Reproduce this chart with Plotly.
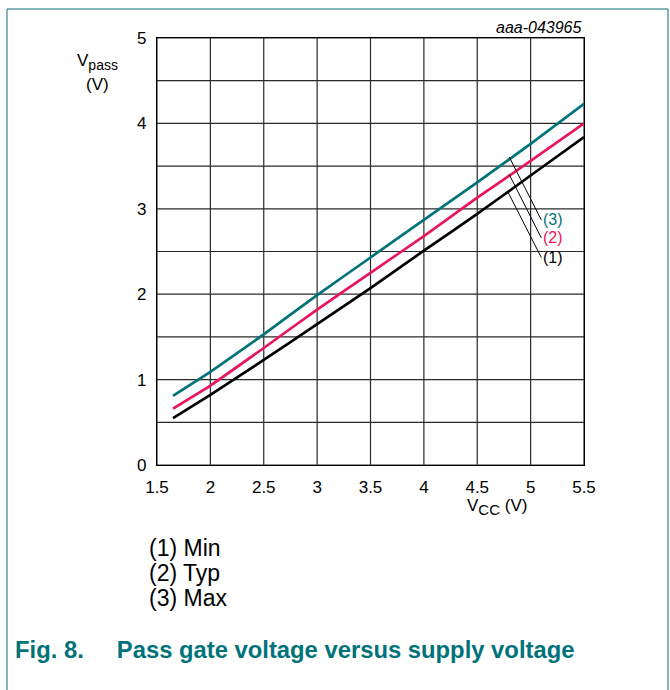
import plotly.graph_objects as go

# ---- data ----
vcc = [1.65, 2.0, 2.5, 3.0, 3.5, 4.0, 4.5, 5.0, 5.5]
v_min = [0.55, 0.82, 1.23, 1.65, 2.07, 2.51, 2.94, 3.39, 3.84]
v_typ = [0.66, 0.93, 1.37, 1.82, 2.25, 2.68, 3.13, 3.56, 4.00]
v_max = [0.81, 1.09, 1.53, 1.99, 2.43, 2.87, 3.31, 3.76, 4.23]
series_names = ["(1)", "(2)", "(3)"]
series_colors = ["#000000", "#e8175d", "#00737a"]
legend_lines = ["(1) Min", "(2) Typ", "(3) Max"]
x_ticks = [1.5, 2, 2.5, 3, 3.5, 4, 4.5, 5, 5.5]
x_tick_text = ["1.5", "2", "2.5", "3", "3.5", "4", "4.5", "5", "5.5"]
y_ticks = [0, 1, 2, 3, 4, 5]
# leader lines: start on curve -> end near label (data coords)
leader_start = [(4.786, 3.20), (4.80, 3.40), (4.80, 3.606)]
leader_end = [(5.10, 2.43), (5.10, 2.66), (5.10, 2.87)]

teal = "#00737a"
font = "Liberation Sans, Arial, sans-serif"
frame_col = "#5a9ea3"

fig = go.Figure()
for ys, c in zip([v_min, v_typ, v_max], series_colors):
    fig.add_trace(go.Scatter(x=vcc, y=ys, mode="lines",
                             line=dict(color=c, width=2.7, shape="spline", smoothing=0.3),
                             showlegend=False, hoverinfo="skip"))

# grid lines every 0.5
grid_x = [1.5 + 0.5 * i for i in range(9)]
grid_y = [0.5 * i for i in range(11)]
shapes = []
for gx in grid_x:
    shapes.append(dict(type="line", xref="x", yref="y", x0=gx, x1=gx, y0=0, y1=5,
                       line=dict(color="#2a2a2a", width=1.2), layer="below"))
for gy in grid_y:
    shapes.append(dict(type="line", xref="x", yref="y", x0=1.5, x1=5.5, y0=gy, y1=gy,
                       line=dict(color="#2a2a2a", width=1.2), layer="below"))
# leader lines
for (x0, y0), (x1, y1) in zip(leader_start, leader_end):
    shapes.append(dict(type="line", xref="x", yref="y", x0=x0, y0=y0, x1=x1, y1=y1,
                       line=dict(color="#000000", width=1)))
# outer frame (left, top, right)
shapes.append(dict(type="line", xref="paper", yref="paper", x0=-0.3513, x1=1.1967, y0=1.068, y1=1.068,
                   line=dict(color=frame_col, width=1.5)))
shapes.append(dict(type="line", xref="paper", yref="paper", x0=-0.3513, x1=-0.3513, y0=-0.53, y1=1.068,
                   line=dict(color=frame_col, width=1.5)))
shapes.append(dict(type="line", xref="paper", yref="paper", x0=1.1967, x1=1.1967, y0=-0.53, y1=1.068,
                   line=dict(color=frame_col, width=1.5)))
fig.update_layout(shapes=shapes)

annotations = []
for (x1, y1), name, c in zip(leader_end, series_names, series_colors):
    annotations.append(dict(x=x1, y=y1, xref="x", yref="y", text=name, showarrow=False,
                            xanchor="left", yanchor="middle", xshift=0,
                            font=dict(family=font, size=16, color=c)))
annotations.append(dict(x=1.0, y=1.0, xref="paper", yref="paper", text="<i>aaa-043965</i>",
                        showarrow=False, xanchor="right", yanchor="bottom", yshift=0,
                        font=dict(family=font, size=16, color="#000")))
annotations.append(dict(x=-0.1405, y=0.944, xref="paper", yref="paper",
                        text="V<sub><span style='font-size:14px'>pass</span></sub>",
                        showarrow=False, xanchor="center", yanchor="middle",
                        font=dict(family=font, size=17, color="#000")))
annotations.append(dict(x=-0.1405, y=0.89, xref="paper", yref="paper",
                        text="(V)", showarrow=False, xanchor="center", yanchor="middle",
                        font=dict(family=font, size=17, color="#000")))
annotations.append(dict(x=0.796, y=-0.099, xref="paper", yref="paper",
                        text="V<sub><span style='font-size:15px'>CC</span></sub> (V)",
                        showarrow=False, xanchor="center", yanchor="middle",
                        font=dict(family=font, size=17, color="#000")))
for i, t in enumerate(legend_lines):
    annotations.append(dict(x=-0.0234, y=-0.194 - i * 0.0585, xref="paper", yref="paper",
                            text=t, showarrow=False, xanchor="left", yanchor="middle",
                            font=dict(family=font, size=23, color="#000")))
annotations.append(dict(x=-0.3373, y=-0.433, xref="paper", yref="paper",
                        text="<b>Fig. 8.     Pass gate voltage versus supply voltage</b>",
                        showarrow=False, xanchor="left", yanchor="middle",
                        font=dict(family=font, size=23.8, color=teal)))
fig.update_layout(annotations=annotations)

fig.update_xaxes(range=[1.5, 5.5], tickvals=x_ticks, ticktext=x_tick_text,
                 showgrid=False, zeroline=False, showline=True, linecolor="#000",
                 linewidth=1.2, mirror=True, ticks="", ticklabelstandoff=6,
                 tickfont=dict(family=font, size=17, color="#000"))
fig.update_yaxes(range=[0, 5], tickvals=y_ticks,
                 showgrid=False, zeroline=False, showline=True, linecolor="#000",
                 linewidth=1.2, mirror=True, ticks="", ticklabelstandoff=6,
                 tickfont=dict(family=font, size=17, color="#000"))

fig.update_layout(width=670, height=690, autosize=False,
                  margin=dict(l=157, r=86, t=38, b=225),
                  paper_bgcolor="white", plot_bgcolor="white")

fig.write_html("out.html", config={"displayModeBar": False},
               post_script="document.body.style.margin='0px';document.body.style.overflow='hidden';")
